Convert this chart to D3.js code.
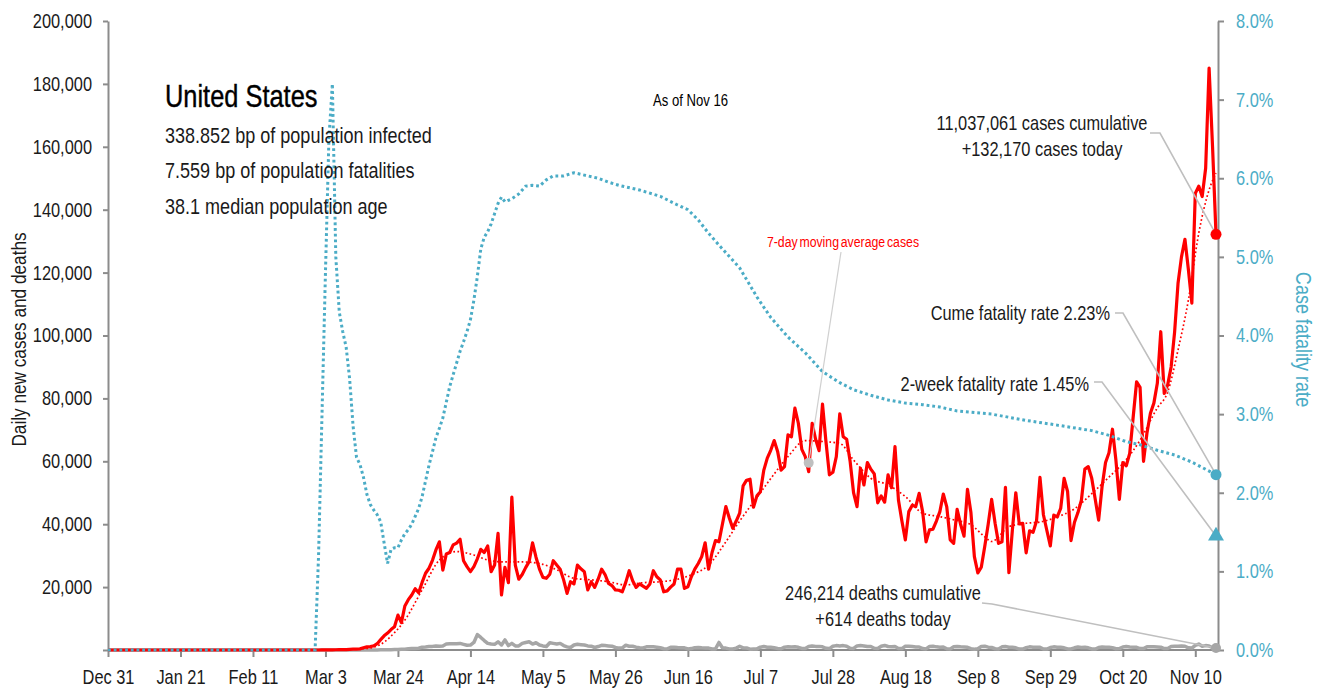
<!DOCTYPE html>
<html>
<head>
<meta charset="utf-8">
<script src="https://cdn.jsdelivr.net/npm/d3@7"></script>
<style>
  body { margin: 0; background: #fff; }
  svg text { font-family: 'Liberation Sans', Arial, sans-serif; }
</style>
</head>
<body>
<script>
// daily series start on Mar 1 2020; everything before that is zero
const seriesStart = '2020-03-01';
const axisStart = '2019-12-31';
const axisEnd = '2020-11-16';

// daily new cases, Mar 1 .. Nov 16
const dailyCases = [
  0, 20, 14, 22, 34, 74, 105, 95, 121, 200,
  271, 287, 351, 700, 1000, 1100, 1300, 2000, 3300, 4500,
  5400, 6500, 7400, 11100, 8700, 14000, 16000, 17500, 19500, 18200,
  21500, 24400, 26000, 28500, 31800, 34400, 25400, 30500, 31000, 33400,
  34000, 35200, 28400, 26500, 24900, 26500, 29000, 32000, 31000, 33100,
  24900, 27000, 37100, 17500, 26300, 21400, 48600, 27000, 22500, 24000,
  26200, 28100, 34100, 29500, 25700, 23100, 22800, 24100, 28400, 27000,
  25700, 22300, 18000, 21700, 21000, 27000, 25800, 24900, 19100, 21700,
  19900, 22500, 25700, 24000, 21200, 20500, 19100, 19000, 18500, 21500,
  25200, 22000, 19900, 21000, 20300, 19600, 21000, 25200, 23300, 22300,
  18500, 18800, 20000, 21000, 25700, 25700, 19600, 20100, 23300, 25700,
  27500, 29700, 34100, 25700, 31000, 34800, 34400, 40000, 45600, 42000,
  38700, 41000, 43500, 52200, 54000, 54300, 45400, 49000, 50300, 57200,
  61000, 63500, 66600, 63100, 57200, 58300, 68400, 67800, 76900, 72100,
  63800, 61500, 56700, 72100, 67000, 63400, 78200, 66300, 55700, 56500,
  61500, 75100, 67800, 67000, 60000, 50000, 45600, 57800, 52500, 59600,
  57500, 56000, 46800, 49000, 47000, 55700, 51600, 64700, 47700, 41000,
  35000, 44000, 46000, 45600, 49800, 44000, 34400, 38200, 38400, 41000,
  44000, 49600, 45500, 35000, 33900, 44700, 40000, 36200, 51100, 43700,
  29700, 24500, 26300, 32900, 40000, 47900, 40300, 33900, 34400, 51700,
  24600, 38000, 50000, 40100, 40300, 30900, 37900, 37400, 41000, 54900,
  43000, 38000, 33100, 42900, 42300, 45000, 54600, 50400, 34800, 40600,
  43700, 47600, 57500, 58300, 54600, 48000, 41300, 52000, 59600, 62700,
  70200, 60400, 47900, 59600, 58600, 62500, 74000, 85300, 83500, 60000,
  69000, 75300, 78500, 84800, 101200, 81600, 84300, 90000, 101000, 116600,
  125000, 130600, 121000, 110300, 145200, 147500, 144200, 153200, 185000, 160000, 132170
];

// daily deaths, Mar 1 .. Nov 16
const dailyDeaths = [
  1, 0, 5, 1, 2, 1, 1, 3, 4, 4,
  3, 7, 7, 4, 6, 10, 23, 32, 46, 60,
  80, 110, 120, 150, 230, 260, 400, 450, 500, 570,
  900, 950, 1100, 1150, 1300, 1200, 1300, 1900, 2000, 1950,
  2000, 2100, 1800, 1500, 1550, 2400, 4900, 4000, 3000, 2100,
  1900, 1800, 2600, 1600, 3200, 1400, 2100, 1300, 1300, 2100,
  2400, 2600, 1900, 2300, 1600, 1300, 1100, 2300, 2100, 1900,
  2100, 1400, 1000, 800, 1600, 1800, 1700, 1600, 1300, 1200,
  800, 1100, 1500, 1400, 1300, 1200, 800, 600, 700, 1500,
  1200, 1200, 900, 700, 650, 1000, 1000, 1000, 900, 750,
  400, 350, 850, 900, 800, 750, 700, 350, 450, 750,
  800, 700, 650, 600, 300, 350, 2400, 700, 600, 350,
  300, 600, 1200, 700, 650, 250, 300, 350, 900, 1100,
  900, 850, 700, 500, 400, 900, 1000, 950, 1000, 850,
  500, 450, 1100, 1300, 1150, 1150, 1000, 550, 450, 1200,
  1400, 1250, 1400, 1200, 550, 500, 1300, 1400, 1300, 1100,
  1100, 550, 500, 1200, 1450, 1100, 1050, 1100, 500, 450,
  1200, 1200, 1100, 950, 950, 450, 350, 1100, 1200, 1000,
  900, 950, 400, 350, 1000, 1100, 1000, 950, 850, 400,
  250, 400, 1100, 1200, 900, 800, 400, 300, 1000, 1100,
  900, 850, 700, 300, 300, 750, 1000, 900, 900, 850,
  300, 300, 800, 1000, 900, 850, 700, 350, 350, 700,
  950, 800, 900, 700, 350, 300, 800, 950, 850, 900,
  750, 400, 450, 950, 1100, 950, 900, 850, 450, 450,
  1000, 1000, 1000, 950, 900, 450, 500, 1100, 1200, 1200,
  1300, 1200, 700, 600, 1500, 1900, 1200, 1400, 1300, 700, 614
];

// 7-day moving average of cases
const maDates = [
  '2020-03-01', '2020-03-15', '2020-03-20', '2020-03-23', '2020-03-26', '2020-03-31',
  '2020-04-05', '2020-04-10', '2020-04-15', '2020-04-19', '2020-04-24', '2020-04-29',
  '2020-05-04', '2020-05-09', '2020-05-14', '2020-05-19', '2020-05-24', '2020-05-29',
  '2020-06-03', '2020-06-08', '2020-06-13', '2020-06-17', '2020-06-22', '2020-06-27',
  '2020-07-01', '2020-07-06', '2020-07-10', '2020-07-15', '2020-07-20', '2020-07-25',
  '2020-07-30', '2020-08-03', '2020-08-08', '2020-08-13', '2020-08-18', '2020-08-23',
  '2020-08-28', '2020-09-01', '2020-09-06', '2020-09-10', '2020-09-12', '2020-09-17',
  '2020-09-22', '2020-09-26', '2020-10-01', '2020-10-06', '2020-10-11', '2020-10-16',
  '2020-10-20', '2020-10-25', '2020-10-30', '2020-11-02', '2020-11-05', '2020-11-08',
  '2020-11-11', '2020-11-14', '2020-11-16'
];
const maValues = [
  0, 500, 2500, 5500, 9500, 19100,
  28600, 31300, 30200, 28600, 28000, 28000,
  27500, 25500, 22800, 22300, 21700, 20700,
  21400, 21700, 22500, 23900, 27000, 34400,
  41000, 48500, 54500, 61500, 66600, 66300,
  65700, 60400, 54600, 52500, 48800, 43500,
  42400, 41400, 39800, 36000, 34500, 39200,
  40300, 40700, 42300, 44900, 49700, 55000,
  59300, 66700, 77000, 82000, 95400, 111300,
  132500, 146300, 151600
];

// cumulative case fatality rate, percent (right axis)
const cfrDates = [
  '2020-02-29', '2020-03-01', '2020-03-02', '2020-03-03', '2020-03-04', '2020-03-05',
  '2020-03-06', '2020-03-07', '2020-03-08', '2020-03-09', '2020-03-10', '2020-03-11',
  '2020-03-12', '2020-03-13', '2020-03-14', '2020-03-15', '2020-03-16', '2020-03-17',
  '2020-03-18', '2020-03-19', '2020-03-20', '2020-03-21', '2020-03-22', '2020-03-23',
  '2020-03-24', '2020-03-25', '2020-03-26', '2020-03-27', '2020-03-28', '2020-03-29',
  '2020-03-30', '2020-03-31', '2020-04-01', '2020-04-02', '2020-04-03', '2020-04-04',
  '2020-04-05', '2020-04-06', '2020-04-07', '2020-04-08', '2020-04-09', '2020-04-10',
  '2020-04-11', '2020-04-12', '2020-04-13', '2020-04-14', '2020-04-15', '2020-04-16',
  '2020-04-17', '2020-04-18', '2020-04-19', '2020-04-20', '2020-04-21', '2020-04-22',
  '2020-04-23', '2020-04-24', '2020-04-25', '2020-04-26', '2020-04-28', '2020-04-30',
  '2020-05-02', '2020-05-04', '2020-05-06', '2020-05-08', '2020-05-11', '2020-05-14',
  '2020-05-17', '2020-05-21', '2020-05-24', '2020-05-27', '2020-06-02', '2020-06-08',
  '2020-06-13', '2020-06-16', '2020-06-19', '2020-06-22', '2020-06-25', '2020-07-01',
  '2020-07-06', '2020-07-10', '2020-07-15', '2020-07-20', '2020-07-25', '2020-07-30',
  '2020-08-03', '2020-08-08', '2020-08-13', '2020-08-18', '2020-08-23', '2020-08-28',
  '2020-09-02', '2020-09-12', '2020-09-22', '2020-10-01', '2020-10-11', '2020-10-16',
  '2020-10-21', '2020-10-25', '2020-10-30', '2020-11-04', '2020-11-09', '2020-11-16'
];
const cfrValues = [
  0, 1.2, 3.0, 4.8, 6.5, 7.2,
  5.0, 4.3, 4.05, 3.85, 3.45, 2.85,
  2.45, 2.36, 2.2, 1.98, 1.85, 1.78,
  1.72, 1.63, 1.36, 1.1, 1.28, 1.3,
  1.3, 1.4, 1.48, 1.53, 1.6, 1.7,
  1.8, 1.95, 2.15, 2.35, 2.52, 2.7,
  2.82, 2.95, 3.15, 3.35, 3.5, 3.65,
  3.8, 3.92, 4.05, 4.2, 4.45, 4.75,
  5.1, 5.25, 5.32, 5.42, 5.55, 5.68,
  5.76, 5.7, 5.72, 5.74, 5.8, 5.9,
  5.91, 5.9, 5.98, 6.03, 6.03, 6.07,
  6.04, 6.0, 5.95, 5.91, 5.85, 5.77,
  5.66, 5.6, 5.47, 5.3, 5.15, 4.86,
  4.49, 4.23, 3.98, 3.78, 3.54, 3.4,
  3.31, 3.24, 3.18, 3.14, 3.12, 3.09,
  3.04, 3.0, 2.92, 2.86, 2.79, 2.73,
  2.65, 2.61, 2.54, 2.48, 2.39, 2.23
];

const xTickDates = ['2019-12-31', '2020-01-21', '2020-02-11', '2020-03-03', '2020-03-24', '2020-04-14',
  '2020-05-05', '2020-05-26', '2020-06-16', '2020-07-07', '2020-07-28', '2020-08-18',
  '2020-09-08', '2020-09-29', '2020-10-20', '2020-11-10'];
const yLeftTicks = [0, 20000, 40000, 60000, 80000, 100000, 120000, 140000, 160000, 180000, 200000];
const yRightTicks = [0, 1, 2, 3, 4, 5, 6, 7, 8];

const countryName = 'United States';
const factLines = ['338.852 bp of population infected', '7.559 bp of population fatalities', '38.1 median population age'];
const asOfLabel = 'As of Nov 16';
const casesNote = ['11,037,061 cases cumulative', '+132,170 cases today'];
const deathsNote = ['246,214 deaths cumulative', '+614 deaths today'];
const cumeCfr = 2.23;
const twoWeekCfr = 1.45;
const maLabelDate = '2020-07-21';
const maLabelValue = 59500;

// ---------- setup
const W = 1322, H = 688;
const plot = { left: 108, right: 1218, top: 21, bottom: 650 };
const parse = d3.timeParse('%Y-%m-%d');
const t0 = parse(seriesStart);
const NARROW = 0.82; // the original face is a condensed grotesque

const BLUE = '#4bacc6', RED = '#ff0000', GREY = '#a6a6a6', AXIS = '#8c8c8c', LEADER = '#bfbfbf';

const x = d3.scaleTime().domain([parse(axisStart), parse(axisEnd)]).range([plot.left, 1216]);
const y = d3.scaleLinear().domain([0, 200000]).range([plot.bottom, plot.top]);
const yR = d3.scaleLinear().domain([0, 8]).range([plot.bottom, plot.top]);

const lead = { date: parse(axisStart), v: 0 };
const cases = [lead].concat(dailyCases.map((v, i) => ({ date: d3.timeDay.offset(t0, i), v })));
const deaths = [lead].concat(dailyDeaths.map((v, i) => ({ date: d3.timeDay.offset(t0, i), v })));
const ma = [lead].concat(maDates.map((d, i) => ({ date: parse(d), v: maValues[i] })));
const cfr = [lead].concat(cfrDates.map((d, i) => ({ date: parse(d), v: cfrValues[i] })));

const svg = d3.select('body').append('svg').attr('width', W).attr('height', H);

// ---------- axes
const fmtX = d3.timeFormat('%b %-d');
const xAxis = svg.append('g').attr('transform', `translate(0,${plot.bottom})`)
  .call(d3.axisBottom(x).tickValues(xTickDates.map(parse)).tickFormat(fmtX).tickSize(7).tickSizeOuter(0).tickPadding(13));
xAxis.select('.domain').attr('d', `M${plot.left},0H${plot.right}`);

const yAxisL = svg.append('g').attr('transform', `translate(${plot.left},0)`)
  .call(d3.axisLeft(y).tickValues(yLeftTicks).tickFormat(d => d === 0 ? '' : d3.format(',')(d)).tickSize(5).tickSizeOuter(0).tickPadding(11));

const yAxisR = svg.append('g').attr('transform', `translate(${plot.right},0)`)
  .call(d3.axisRight(yR).tickValues(yRightTicks).tickFormat(d => d.toFixed(1) + '%').tickSize(6).tickSizeOuter(0).tickPadding(12));

[xAxis, yAxisL, yAxisR].forEach(g => {
  g.select('.domain').attr('stroke', AXIS).attr('stroke-width', 2);
  g.selectAll('.tick line').attr('stroke', AXIS).attr('stroke-width', 2);
  g.selectAll('.tick text').attr('font-size', 20).attr('fill', '#1a1a1a')
    .style('font-family', "'Liberation Sans', Arial, sans-serif");
});
yAxisR.selectAll('.tick text').attr('fill', BLUE);

svg.append('text')
  .attr('transform', `translate(26,${(plot.top + plot.bottom) / 2 + 4}) rotate(-90)`)
  .attr('text-anchor', 'middle').attr('font-size', 21).attr('fill', '#1a1a1a')
  .text('Daily new cases and deaths');

svg.append('text')
  .attr('transform', `translate(1296,${(plot.top + plot.bottom) / 2 + 4}) rotate(90)`)
  .attr('text-anchor', 'middle').attr('font-size', 22).attr('fill', BLUE)
  .text('Case fatality rate');

// ---------- series
const lineL = d3.line().x(d => x(d.date)).y(d => y(d.v));
const lineR = d3.line().x(d => x(d.date)).y(d => yR(d.v));

svg.append('path').datum(deaths).attr('d', lineL)
  .attr('fill', 'none').attr('stroke', GREY).attr('stroke-width', 3.5).attr('stroke-linejoin', 'round');

svg.append('path').datum(cases).attr('d', lineL)
  .attr('fill', 'none').attr('stroke', RED).attr('stroke-width', 3.2).attr('stroke-linejoin', 'round');

svg.append('path').datum(ma).attr('d', lineL.curve(d3.curveMonotoneX))
  .attr('fill', 'none').attr('stroke', RED).attr('stroke-width', 1.7).attr('stroke-dasharray', '1.7 2.4');

svg.append('path').datum(cfr).attr('d', lineR)
  .attr('fill', 'none').attr('stroke', BLUE).attr('stroke-width', 3).attr('stroke-dasharray', '2.8 2.9');

// ---------- markers
const lastCase = cases[cases.length - 1];
const lastDeath = deaths[deaths.length - 1];
const endX = x(lastCase.date);

svg.append('circle').attr('cx', endX).attr('cy', y(lastCase.v)).attr('r', 5.5).attr('fill', RED);
svg.append('circle').attr('cx', endX).attr('cy', yR(cumeCfr)).attr('r', 5.5).attr('fill', BLUE);
svg.append('path').attr('d', d3.symbol(d3.symbolTriangle, 110)())
  .attr('transform', `translate(${endX},${yR(twoWeekCfr)})`).attr('fill', BLUE);
svg.append('circle').attr('cx', endX).attr('cy', y(lastDeath.v)).attr('r', 5).attr('fill', GREY);
const maDot = { x: x(parse(maLabelDate)), y: y(maLabelValue) };

// ---------- leader lines
const leader = pts => svg.insert('polyline', 'circle')
  .attr('points', pts.map(p => p.join(',')).join(' '))
  .attr('fill', 'none').attr('stroke', LEADER).attr('stroke-width', 1.6);

leader([[1150, 133], [1160, 133], [endX, y(lastCase.v)]]);
leader([[1115, 313], [1123, 313], [endX, yR(cumeCfr)]]);
leader([[1094, 382], [1102, 382], [endX, yR(twoWeekCfr)]]);
leader([[982, 603], [992, 604], [endX, y(lastDeath.v)]]);
svg.append('line').attr('x1', 841).attr('y1', 252).attr('x2', maDot.x).attr('y2', maDot.y)
  .attr('stroke', '#d0d0d0').attr('stroke-width', 1.2);
svg.append('circle').attr('cx', maDot.x).attr('cy', maDot.y).attr('r', 5).attr('fill', LEADER);

// ---------- text annotations
svg.append('text').attr('x', 165).attr('y', 107).attr('font-size', 31).attr('fill', '#000')
  .attr('stroke', '#000').attr('stroke-width', 0.4).text(countryName);
svg.selectAll('.fact').data(factLines).enter().append('text')
  .attr('x', 165).attr('y', (d, i) => 143 + i * 35.5).attr('font-size', 22).attr('fill', '#1a1a1a').text(d => d);

svg.append('text').attr('x', 653).attr('y', 106).attr('font-size', 16).attr('fill', '#000').text(asOfLabel);

svg.selectAll('.cnote').data(casesNote).enter().append('text')
  .attr('x', 1042).attr('y', (d, i) => 130 + i * 26).attr('text-anchor', 'middle')
  .attr('font-size', 20).attr('fill', '#1a1a1a').text(d => d);

svg.append('text').attr('x', 1110).attr('y', 320).attr('text-anchor', 'end')
  .attr('font-size', 20).attr('fill', '#1a1a1a').text(`Cume fatality rate ${cumeCfr.toFixed(2)}%`);
svg.append('text').attr('x', 1089).attr('y', 391).attr('text-anchor', 'end')
  .attr('font-size', 20).attr('fill', '#1a1a1a').text(`2-week fatality rate ${twoWeekCfr.toFixed(2)}%`);

svg.selectAll('.dnote').data(deathsNote).enter().append('text')
  .attr('x', 883).attr('y', (d, i) => 600 + i * 26).attr('text-anchor', 'middle')
  .attr('font-size', 20).attr('fill', '#1a1a1a').text(d => d);

svg.append('text').attr('x', 843).attr('y', 247).attr('text-anchor', 'middle')
  .attr('font-size', 15).attr('fill', RED).attr('word-spacing', -2).text('7-day moving average cases');

// squeeze every label horizontally around its own anchor
svg.selectAll('text').each(function () {
  const t = d3.select(this);
  const ax = +t.attr('x') || 0;
  const prev = t.attr('transform') || '';
  t.attr('transform', `${prev} translate(${ax},0) scale(${NARROW},1) translate(${-ax},0)`);
});
</script>
</body>
</html>
